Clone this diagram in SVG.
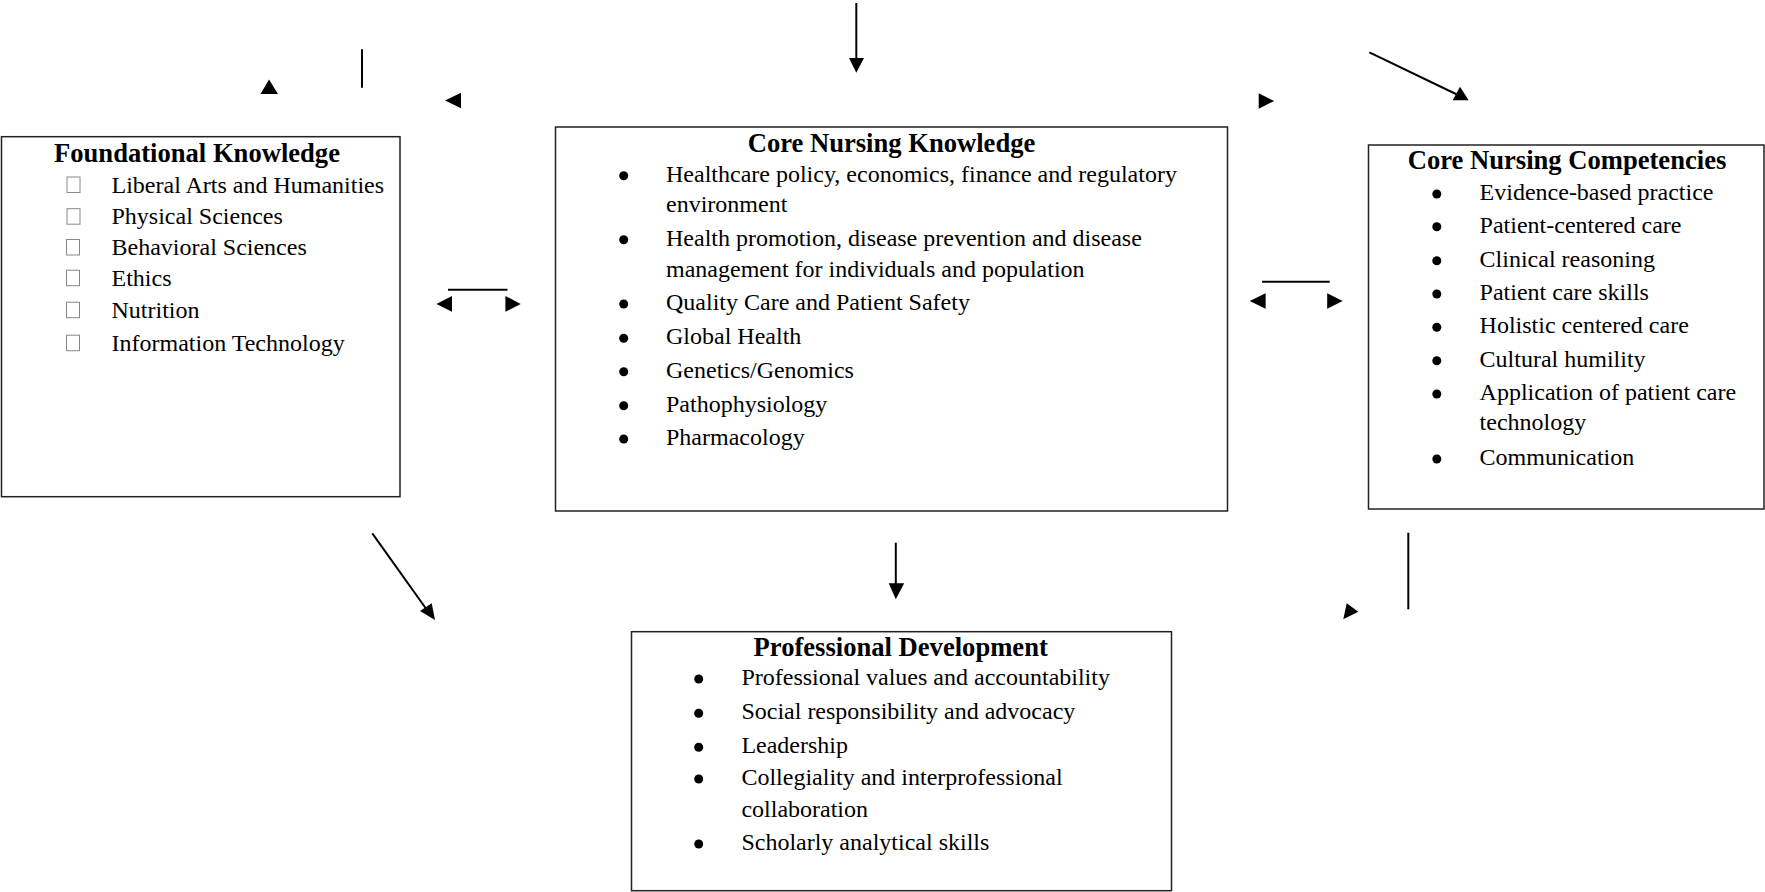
<svg xmlns="http://www.w3.org/2000/svg" width="1765" height="892" viewBox="0 0 1765 892">
<style>
.box{fill:#fff;stroke:#222;stroke-width:1.5}
.t{font-family:"Liberation Serif","Times New Roman",serif;font-size:24px;fill:#000}
.h{font-family:"Liberation Serif","Times New Roman",serif;font-size:26.6px;font-weight:bold;fill:#000;text-anchor:middle}
.dot{fill:#000}
.tofu{fill:none;stroke:#888;stroke-width:1}
.ln{stroke:#000;stroke-width:2;fill:none}
.hd{fill:#000;stroke:none}
</style>
<rect width="1765" height="892" fill="#fff"/>
<g id="connectors">
  <line class="ln" x1="856.3" y1="3" x2="856.3" y2="59"/>
  <polygon class="hd" points="849,58 864,58 856.3,72.7"/>
  <polygon class="hd" points="269,79.5 260.5,94 278,94"/>
  <line class="ln" x1="362" y1="49.3" x2="362" y2="87.7"/>
  <polygon class="hd" points="445,100.5 461,92.7 461,108.3"/>
  <line class="ln" x1="448" y1="289.7" x2="507.5" y2="289.7"/>
  <polygon class="hd" points="436.4,304 452,296 452,311.7"/>
  <polygon class="hd" points="520.7,304 505.4,296 505.4,311.7"/>
  <polygon class="hd" points="1274.2,101 1258.7,93.3 1258.7,108.7"/>
  <line class="ln" x1="1369.4" y1="52.3" x2="1458" y2="95"/>
  <polygon class="hd" points="1468.7,100.3 1452.7,100.3 1460,86.7"/>
  <line class="ln" x1="1262" y1="281.7" x2="1329.7" y2="281.7"/>
  <polygon class="hd" points="1249.7,301 1265.6,293.3 1265.6,308.7"/>
  <polygon class="hd" points="1342.7,301 1327.2,293.3 1327.2,308.7"/>
  <line class="ln" x1="372.3" y1="533.3" x2="427" y2="610"/>
  <polygon class="hd" points="435,620 420,611 431.7,603.3"/>
  <line class="ln" x1="895.8" y1="542.7" x2="895.8" y2="584"/>
  <polygon class="hd" points="888.7,583.3 904.2,583.3 895.8,599.3"/>
  <polygon class="hd" points="1343.3,619.3 1346.7,603.3 1358.3,611.7"/>
  <line class="ln" x1="1408.3" y1="532.7" x2="1408.3" y2="609.3"/>
</g>
<g id="foundational">
  <rect class="box" x="1.5" y="136.7" width="398.5" height="360"/>
  <text class="h" x="197" y="161.7">Foundational Knowledge</text>
  <rect class="tofu" x="67" y="177" width="13" height="15.5"/>
  <rect class="tofu" x="67" y="208.7" width="13" height="15.5"/>
  <rect class="tofu" x="66.5" y="239.5" width="13" height="15.5"/>
  <rect class="tofu" x="66.5" y="270.2" width="13" height="15.5"/>
  <rect class="tofu" x="66.5" y="302.2" width="13" height="15.5"/>
  <rect class="tofu" x="66.5" y="335.2" width="13" height="15.5"/>
  <text class="t" x="111.5" y="192.7">Liberal Arts and Humanities</text>
  <text class="t" x="111.5" y="224.3">Physical Sciences</text>
  <text class="t" x="111.5" y="255">Behavioral Sciences</text>
  <text class="t" x="111.5" y="285.7">Ethics</text>
  <text class="t" x="111.5" y="317.7">Nutrition</text>
  <text class="t" x="111.5" y="350.7">Information Technology</text>
</g>
<g id="core-knowledge">
  <rect class="box" x="555.5" y="127" width="672" height="384"/>
  <text class="h" x="891.5" y="151.7">Core Nursing Knowledge</text>
  <circle class="dot" cx="623.7" cy="175.7" r="4.5"/>
  <circle class="dot" cx="623.7" cy="239.7" r="4.5"/>
  <circle class="dot" cx="623.7" cy="304" r="4.5"/>
  <circle class="dot" cx="623.7" cy="338.3" r="4.5"/>
  <circle class="dot" cx="623.7" cy="371.7" r="4.5"/>
  <circle class="dot" cx="623.7" cy="405.7" r="4.5"/>
  <circle class="dot" cx="623.7" cy="439" r="4.5"/>
  <text class="t" x="666" y="181.7">Healthcare policy, economics, finance and regulatory</text>
  <text class="t" x="666" y="211.7">environment</text>
  <text class="t" x="666" y="245.7">Health promotion, disease prevention and disease</text>
  <text class="t" x="666" y="276.7">management for individuals and population</text>
  <text class="t" x="666" y="310">Quality Care and Patient Safety</text>
  <text class="t" x="666" y="344.3">Global Health</text>
  <text class="t" x="666" y="377.7">Genetics/Genomics</text>
  <text class="t" x="666" y="411.7">Pathophysiology</text>
  <text class="t" x="666" y="445">Pharmacology</text>
</g>
<g id="core-competencies">
  <rect class="box" x="1368.5" y="145" width="395.5" height="364"/>
  <text class="h" x="1567" y="169.3">Core Nursing Competencies</text>
  <circle class="dot" cx="1436.8" cy="194" r="4.5"/>
  <circle class="dot" cx="1436.8" cy="226.7" r="4.5"/>
  <circle class="dot" cx="1436.8" cy="260.7" r="4.5"/>
  <circle class="dot" cx="1436.8" cy="294" r="4.5"/>
  <circle class="dot" cx="1436.8" cy="327.3" r="4.5"/>
  <circle class="dot" cx="1436.8" cy="360.7" r="4.5"/>
  <circle class="dot" cx="1436.8" cy="394" r="4.5"/>
  <circle class="dot" cx="1436.8" cy="459" r="4.5"/>
  <text class="t" x="1479.6" y="200">Evidence-based practice</text>
  <text class="t" x="1479.6" y="232.7">Patient-centered care</text>
  <text class="t" x="1479.6" y="266.7">Clinical reasoning</text>
  <text class="t" x="1479.6" y="300">Patient care skills</text>
  <text class="t" x="1479.6" y="333.3">Holistic centered care</text>
  <text class="t" x="1479.6" y="366.7">Cultural humility</text>
  <text class="t" x="1479.6" y="400">Application of patient care</text>
  <text class="t" x="1479.6" y="430">technology</text>
  <text class="t" x="1479.6" y="465">Communication</text>
</g>
<g id="professional-development">
  <rect class="box" x="631.5" y="631.7" width="540" height="259"/>
  <text class="h" x="900.7" y="655.7">Professional Development</text>
  <circle class="dot" cx="698.7" cy="679" r="4.5"/>
  <circle class="dot" cx="698.7" cy="713.3" r="4.5"/>
  <circle class="dot" cx="698.7" cy="747.3" r="4.5"/>
  <circle class="dot" cx="698.7" cy="779" r="4.5"/>
  <circle class="dot" cx="698.7" cy="844" r="4.5"/>
  <text class="t" x="741.4" y="685">Professional values and accountability</text>
  <text class="t" x="741.4" y="719.3">Social responsibility and advocacy</text>
  <text class="t" x="741.4" y="753.3">Leadership</text>
  <text class="t" x="741.4" y="785">Collegiality and interprofessional</text>
  <text class="t" x="741.4" y="816.7">collaboration</text>
  <text class="t" x="741.4" y="850">Scholarly analytical skills</text>
</g>
</svg>
